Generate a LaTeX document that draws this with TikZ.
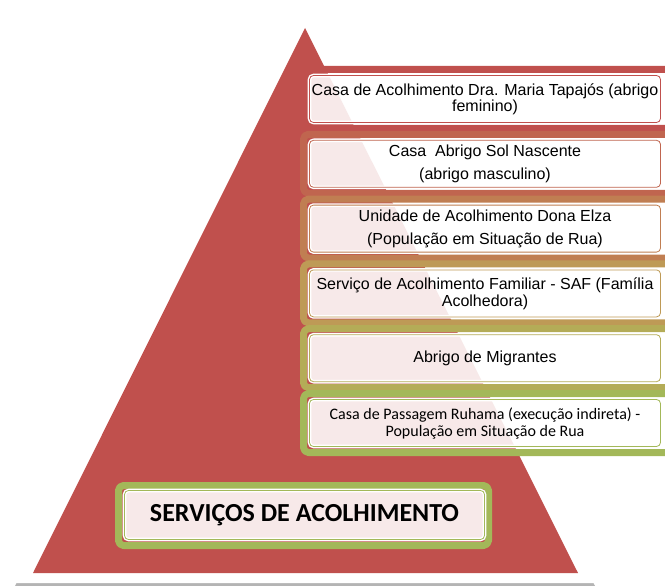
\documentclass[tikz,border=0pt]{standalone}
\usepackage{fontspec}
\setmainfont{Liberation Sans}
\newfontfamily\calibrifont{Carlito}
\usepackage{xcolor}
\usepackage{tikz}
\definecolor{acRed}{HTML}{C0504D}
\definecolor{acBandB}{HTML}{C0654F}
\definecolor{acBandC}{HTML}{C07E52}
\definecolor{acBandD}{HTML}{BE9A56}
\definecolor{acBandE}{HTML}{B4AC57}
\definecolor{acGreen}{HTML}{A3B859}
\definecolor{acShadow}{HTML}{B4B4B4}
\tikzset{
  ac diagram/.style={x=1pt, y=-1pt, font=\fontsize{16}{16}\selectfont,
    text=black, line join=round},
  ac band/.style={draw=#1, line width=7pt, rounded corners=5pt,
    inner sep=0pt, minimum width=378pt, minimum height=59pt},
  ac box/.style={preaction={draw=white, line width=3.6pt},
    draw=#1, line width=0.8pt, fill=white, fill opacity=0.88,
    text opacity=1, rounded corners=4pt, inner sep=0pt, align=center,
    minimum width=351pt, minimum height=47pt},
  ac small/.style={font=\calibrifont\fontsize{16}{16}\selectfont},
  ac title/.style={font=\calibrifont\bfseries\fontsize{26}{26}\selectfont}
}

\begin{document}
\begin{tikzpicture}[ac diagram]
\useasboundingbox (0,0) rectangle (665,586);
\clip (0,0) rectangle (665,586);
% pyramid with its white rim
\fill[acShadow] (305,10) -- (595,586) -- (15,586) -- cycle;
\fill[white] (305,7) -- (595,583) -- (15,583) -- cycle;
\fill[acRed] (305,28) -- (578,573) -- (33,573) -- cycle;
% levels
\node[ac band=acRed] (band1) at (492.5,99) {};
\node[ac box=acRed] (casa) at (485,99) {Casa de Acolhimento Dra. Maria Tapajós (abrigo\\feminino)};
\node[ac band=acBandB] (band2) at (492.5,163.8) {};
\node[ac box=acBandB] (sol) at (485,163.8) {Casa\ \ Abrigo Sol Nascente\\[7pt](abrigo masculino)};
\node[ac band=acBandC] (band3) at (492.5,228.6) {};
\node[ac box=acBandC] (elza) at (485,228.6) {Unidade de Acolhimento Dona Elza\\[7pt](População em Situação de Rua)};
\node[ac band=acBandD] (band4) at (492.5,293.4) {};
\node[ac box=acBandD] (saf) at (485,293.4) {Serviço de Acolhimento Familiar - SAF (Família\\[1pt]Acolhedora)};
\node[ac band=acBandE] (band5) at (492.5,358.2) {};
\node[ac box=acBandE] (migr) at (485,358.2) {Abrigo de Migrantes};
\node[ac band=acGreen] (band6) at (492.5,423) {};
\node[ac box=acGreen, ac small] (ruhama) at (485,423) {Casa de Passagem Ruhama (execução indireta) -\\[1pt]População em Situação de Rua};
% base label
\node[ac band=acGreen, minimum width=370pt, minimum height=60pt] (baseband) at (303.5,515.5) {};
\node[ac box=acGreen, ac title, minimum width=360pt, minimum height=49pt] (servicos) at (304.5,515) {SERVIÇOS DE ACOLHIMENTO};
\end{tikzpicture}
\end{document}
